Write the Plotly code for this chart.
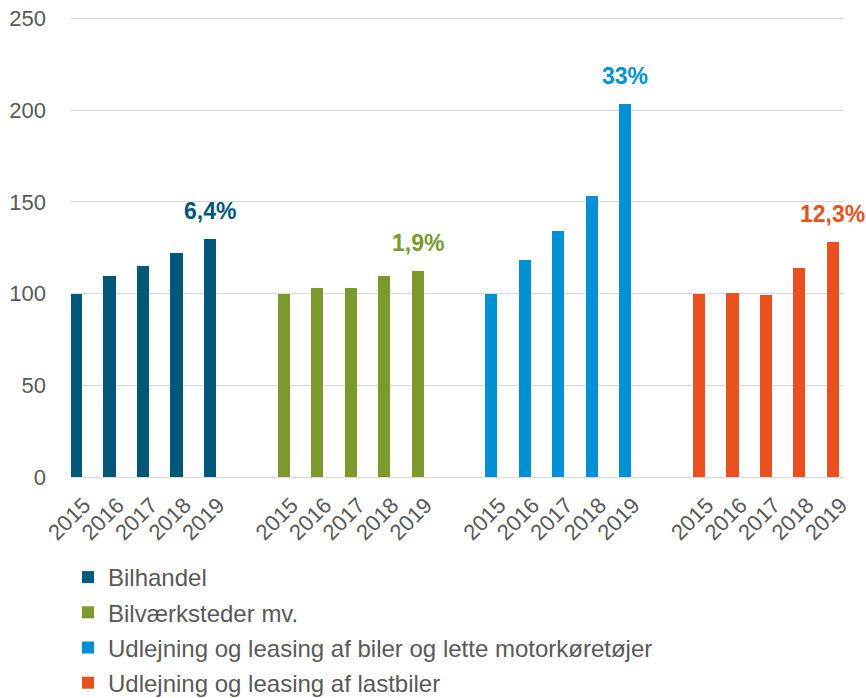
import plotly.graph_objects as go

years = ["2015", "2016", "2017", "2018", "2019"]
series_names = [
    "Bilhandel",
    "Bilværksteder mv.",
    "Udlejning og leasing af biler og lette motorkøretøjer",
    "Udlejning og leasing af lastbiler",
]
bilhandel = [100, 109.4, 114.9, 122.0, 129.8]
bilvaerksteder = [100, 103.1, 103.1, 109.8, 112.2]
udlejning_biler = [100, 118.5, 134.0, 153.1, 203.6]
udlejning_lastbiler = [100, 100.4, 99.1, 114.0, 128.1]
growth_labels = ["6,4%", "1,9%", "33%", "12,3%"]
colors = ["#005879", "#7A9A2E", "#0090D6", "#E9501E"]

all_values = [bilhandel, bilvaerksteder, udlejning_biler, udlejning_lastbiler]

GROUP_STEP = 6.2
TICK_SHIFT = 0.24
FONT = "Liberation Sans, Arial, sans-serif"
TXT = "#595959"
W, H = 866, 698

fig = go.Figure()
tickvals, ticktext = [], []
for g, (name, vals, col, lab) in enumerate(zip(series_names, all_values, colors, growth_labels)):
    xs = [g * GROUP_STEP + i for i in range(len(years))]
    fig.add_trace(go.Bar(
        x=xs, y=vals, name=name, marker=dict(color=col, line=dict(width=0)),
        width=0.36, legendgroup=str(g),
    ))
    fig.add_annotation(
        x=xs[-1], y=vals[-1], text=f"<b>{lab}</b>", showarrow=False,
        yshift=28, font=dict(family=FONT, size=23, color=col),
    )
    tickvals += [x + TICK_SHIFT for x in xs]
    ticktext += years

fig.update_layout(
    width=W, height=H,
    margin=dict(l=71, r=22, t=12.5, b=221, autoexpand=False),
    plot_bgcolor="white", paper_bgcolor="white",
    font=dict(family=FONT, size=22, color=TXT),
    showlegend=True,
    legend=dict(
        orientation="v", traceorder="grouped", tracegroupgap=1,
        xref="container", yref="container", x=68 / W, y=1 - 555 / H,
        xanchor="left", yanchor="top",
        font=dict(family=FONT, size=24, color=TXT),
        bgcolor="rgba(0,0,0,0)",
    ),
    bargap=0,
)
fig.update_xaxes(
    range=[-0.15, 22.93], tickmode="array", tickvals=tickvals, ticktext=ticktext,
    tickangle=-45, showgrid=False, zeroline=False, showline=False,
    ticklabelstandoff=10,
    tickfont=dict(family=FONT, size=22, color=TXT),
)
fig.update_yaxes(
    range=[0, 253], tickmode="array", tickvals=[0, 50, 100, 150, 200, 250],
    showgrid=True, gridcolor="#D9D9D9", gridwidth=1,
    zeroline=True, zerolinecolor="#D9D9D9", zerolinewidth=1,
    showline=False, ticklabelstandoff=24, ticklabeloverflow="allow",
    tickfont=dict(family=FONT, size=22, color=TXT),
)

fig.write_html(
    "out.html",
    config={"displayModeBar": False},
    post_script="document.body.style.margin='0';document.body.style.overflow='hidden';",
)
